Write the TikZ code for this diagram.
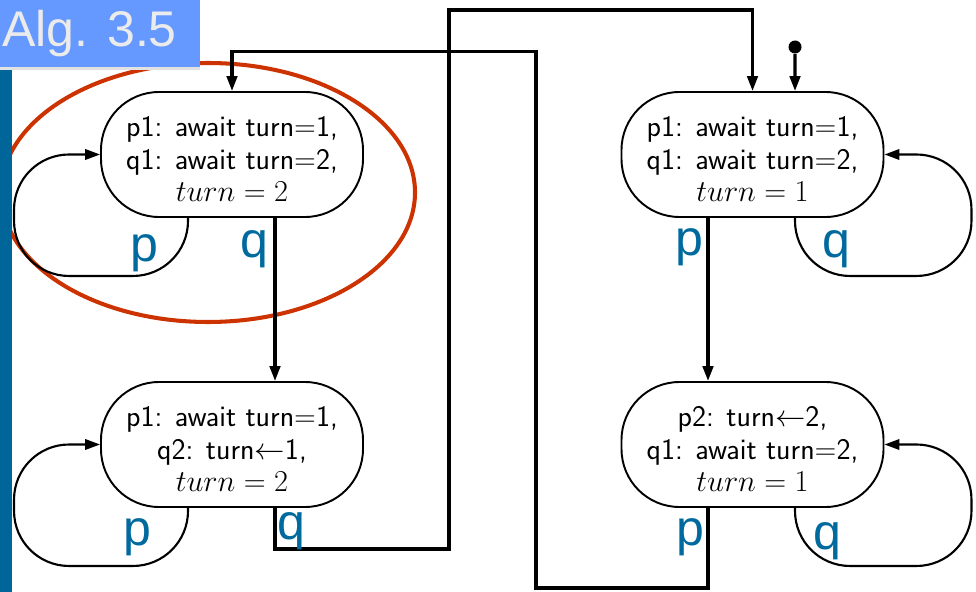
\documentclass[tikz,border=0pt]{standalone}
\usepackage{fontspec}
\usepackage{tikz}
\usetikzlibrary{arrows.meta,calc,positioning}
\newfontfamily\labelfont{Liberation Sans}
\definecolor{TitleBlue}{HTML}{6699FF}
\definecolor{BarBlue}{HTML}{006699}
\definecolor{LabelBlue}{HTML}{006A9E}
\definecolor{RingRed}{HTML}{CC3300}
\definecolor{Shade}{HTML}{E2E2E2}
\newcommand{\statetext}[3]{\raisebox{-0.16cm}[\height][\depth]{\begin{tabular}{@{}c@{}}#1\\#2\\#3\end{tabular}}}

\begin{document}
\begin{tikzpicture}[
  state/.style={draw=black,line width=1.1pt,rounded corners=1.16cm,fill=white,minimum width=5.24cm,minimum height=2.5cm,inner sep=0pt,font=\sffamily\fontsize{17}{18.6}\selectfont},
  arr/.style={-{Triangle[length=0.3cm,width=0.21cm]},line width=1.8pt,draw=black},
  looparr/.style={-{Triangle[length=0.3cm,width=0.21cm]},line width=1.2pt,draw=black,rounded corners=1.1cm},
  lbl/.style={inner sep=0pt,text=LabelBlue,font=\labelfont\fontsize{28.5}{30}\selectfont}
]
\useasboundingbox[fill=white] (0,0) rectangle (19.52,-11.84);

\draw[RingRed,line width=2.3pt] (4.16,-3.85) ellipse [x radius=4.14cm,y radius=2.59cm];

\fill[Shade] (0,0) rectangle (4,-1.41);
\fill[TitleBlue] (0,0) rectangle (4,-1.34);
\fill[BarBlue] (0,-1.41) rectangle (0.24,-11.84);
\node[anchor=base west,inner sep=0pt,text=Shade!70!white,font=\labelfont\fontsize{28.5}{30}\selectfont] (title) at (0.04,-0.94) {Alg. 3.5};

\node[state] (s1) at (4.64,-3.09) {\statetext{p1: await turn=1,}{q1: await turn=2,}{$turn = 2$}};
\node[state] (s2) at (4.64,-8.89) {\statetext{p1: await turn=1,}{q2: turn$\leftarrow$1,}{$turn = 2$}};
\node[state] (s3) at (15.05,-3.09) {\statetext{p1: await turn=1,}{q1: await turn=2,}{$turn = 1$}};
\node[state] (s4) at (15.05,-8.89) {\statetext{p2: turn$\leftarrow$2,}{q1: await turn=2,}{$turn = 1$}};
\node[circle,fill=black,inner sep=0pt,minimum size=0.26cm] (init) at (15.9,-0.94) {};

\coordinate (qtop) at (8.98,-0.2);
\coordinate (ptop) at (10.72,-1.03);

\draw[arr] (init) -- ([xshift=0.85cm]s3.north);
\draw[arr] ([xshift=0.86cm]s1.south) -- ([xshift=0.86cm]s2.north);
\draw[arr] ([xshift=-0.89cm]s3.south) -- ([xshift=-0.89cm]s4.north);
\draw[arr] ([xshift=0.86cm]s2.south) -- ++(0,-0.82) -| (qtop) -| (s3.north);
\draw[arr] ([xshift=-0.89cm]s4.south) -- ++(0,-1.6) -| (ptop) -| (s1.north);

\draw[looparr] ([xshift=-0.88cm]s1.south) -- ++(0,-1.16) -| ([xshift=-1.72cm]s1.west) -- (s1.west);
\draw[looparr] ([xshift=-0.88cm]s2.south) -- ++(0,-1.16) -| ([xshift=-1.72cm]s2.west) -- (s2.west);
\draw[looparr] ([xshift=0.85cm]s3.south) -- ++(0,-1.16) -| ([xshift=1.74cm]s3.east) -- (s3.east);
\draw[looparr] ([xshift=0.85cm]s4.south) -- ++(0,-1.16) -| ([xshift=1.74cm]s4.east) -- (s4.east);

\node[lbl] (p1loop) at (2.88,-5.06) {p};
\node[lbl] (q12) at (5.08,-4.98) {q};
\node[lbl] (p2loop) at (2.74,-10.74) {p};
\node[lbl] (q23) at (5.82,-10.62) {q};
\node[lbl] (p34) at (13.78,-4.94) {p};
\node[lbl] (q3loop) at (16.72,-4.98) {q};
\node[lbl] (p41) at (13.8,-10.74) {p};
\node[lbl] (q4loop) at (16.54,-10.82) {q};
\end{tikzpicture}
\end{document}
